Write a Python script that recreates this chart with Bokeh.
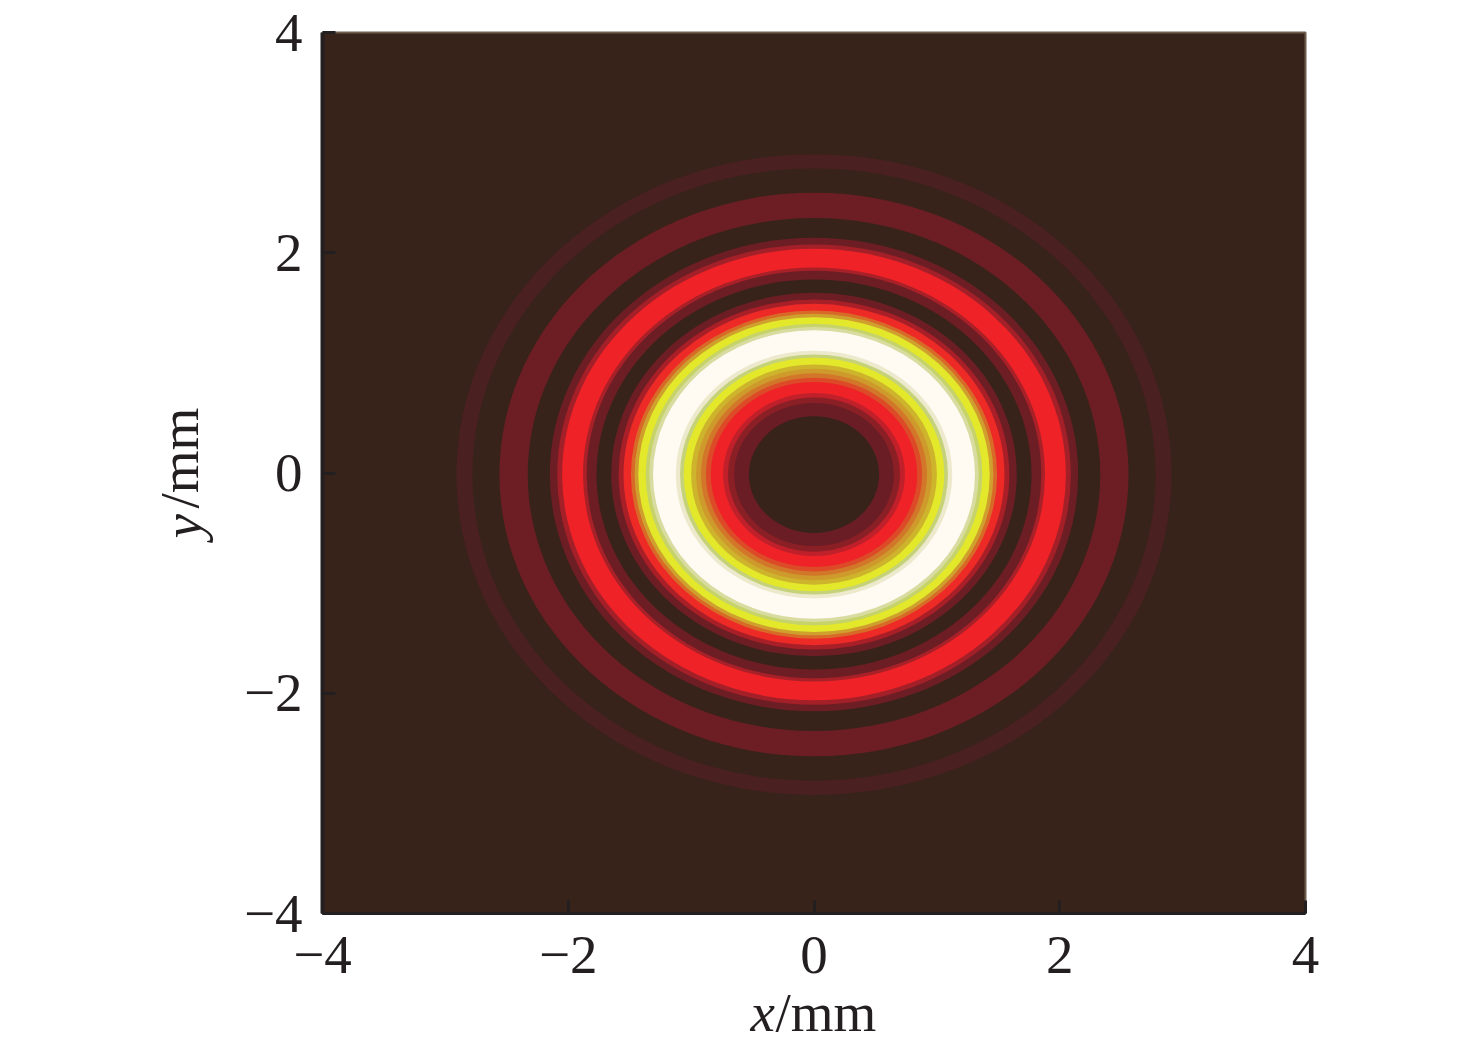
from bokeh.plotting import figure
from bokeh.models import Range1d, FixedTicker, ColumnDataSource, Title
from bokeh.embed import file_html
from bokeh.resources import INLINE

ticks = [-4, -2, 0, 2, 4]
tick_labels = {-4: "\u22124", -2: "\u22122", 0: "0", 2: "2", 4: "4"}
x_label = ["x", "/mm"]
y_label = ["y", "/mm"]

# ring profile: outer radius (mm) of each band and its colour
ring_center_y = -0.014
band_outer_mm = [2.91, 2.78, 2.56, 2.33, 2.15, 2.09, 2.05, 1.88, 1.85, 1.77,
                 1.65, 1.59, 1.55, 1.49, 1.46, 1.43, 1.37, 1.34, 1.31, 1.125,
                 1.09, 1.06, 1.00, 0.96, 0.92, 0.88, 0.84, 0.74, 0.70, 0.65, 0.53]
band_colors = ["#4a2020", "#38231a", "#6c1e24", "#38231a", "#6c1e24", "#a32029", "#ee2227", "#a82028", "#6c1e24", "#38231a",
               "#6c1e24", "#a81f28", "#ee2a27", "#d86a28", "#d0a02e", "#e3e82a", "#c6d36a", "#d9dca0", "#fffaf2", "#ece9cc",
               "#c5d27a", "#e3e82a", "#cdb42c", "#cf9a2c", "#d2772a", "#dc4a28", "#ee2227", "#c0202a", "#8a1f26", "#6a1d25", "#38231a"]

INK = "#231f20"
SERIF = "Liberation Serif"
SIZE = "55px"

p = figure(frame_width=983, frame_height=881, width=1470, height=1048,
           x_range=Range1d(-4, 4), y_range=Range1d(-4, 4),
           output_backend="svg", toolbar_location=None,
           min_border_left=322, min_border_top=32, min_border_right=165, min_border_bottom=135)
p.background_fill_color = "#38231a"
p.border_fill_color = "white"
p.outline_line_color = "#6e5c4c"
p.outline_line_width = 2
p.grid.visible = False

src = ColumnDataSource(dict(
    x=[0.0] * len(band_outer_mm), y=[ring_center_y] * len(band_outer_mm),
    d=[2 * r for r in band_outer_mm], c=band_colors))
p.ellipse(x="x", y="y", width="d", height="d", fill_color="c", line_color=None, source=src)

for ax, w in ((p.xaxis[0], 3), (p.yaxis[0], 4)):
    ax.ticker = FixedTicker(ticks=ticks)
    ax.major_label_overrides = tick_labels
    ax.major_label_text_font = SERIF
    ax.major_label_text_font_size = SIZE
    ax.major_label_text_color = INK
    ax.axis_line_color = INK
    ax.axis_line_width = w
    ax.major_tick_line_color = INK
    ax.major_tick_line_width = 3
    ax.major_tick_in = 13
    ax.major_tick_out = 0
    ax.minor_tick_line_color = None
p.xaxis[0].major_label_standoff = 23
p.yaxis[0].major_label_standoff = 20

def ttl(side, text, italic, offset, standoff):
    p.add_layout(Title(text=text, align="left", offset=offset, standoff=standoff,
                       text_font=SERIF, text_font_size=SIZE, text_color=INK,
                       text_font_style="italic" if italic else "normal"), side)

ttl("below", x_label[0], True, 428, -134)
ttl("below", x_label[1], False, 453, -134)
ttl("left", y_label[0], True, 375, 56)
ttl("left", y_label[1], False, 405, -176)

open("out.html", "w").write(file_html(p, INLINE))
